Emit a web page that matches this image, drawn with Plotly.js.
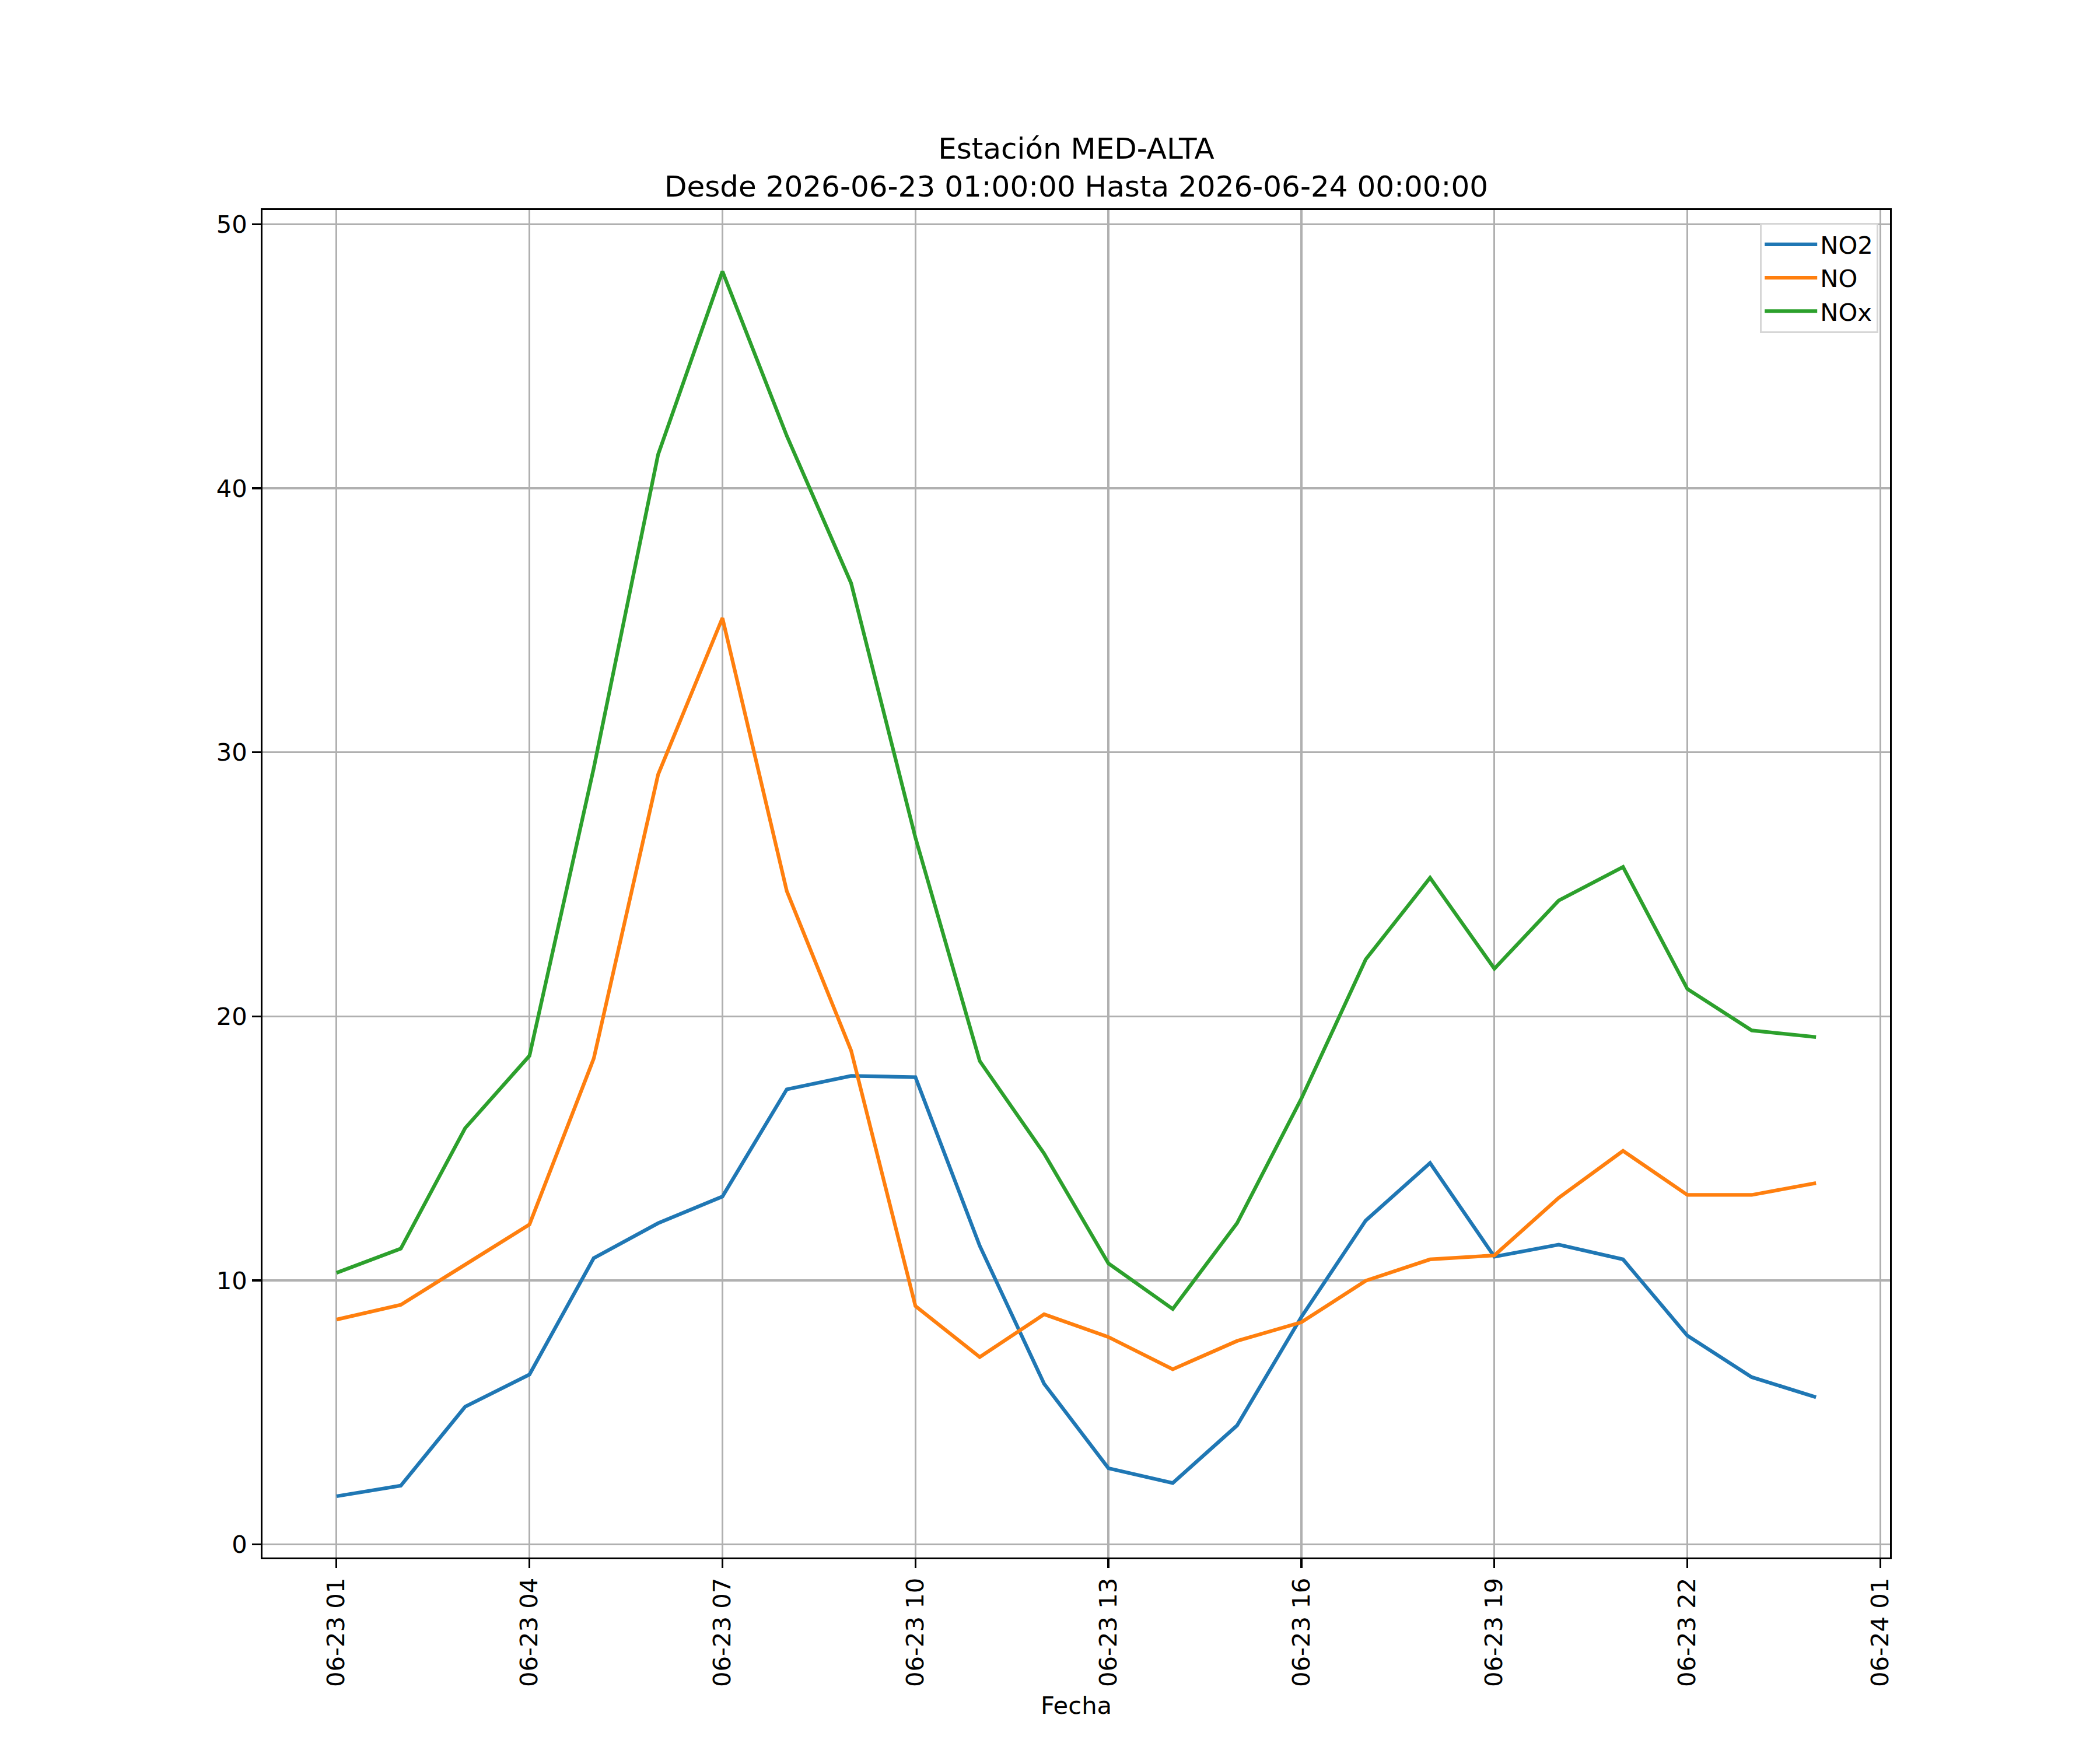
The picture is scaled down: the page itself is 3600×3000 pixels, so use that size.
<!DOCTYPE html>
<html>
<head>
<meta charset="utf-8">
<script src="https://cdn.plot.ly/plotly-3.0.1.min.js"></script>
<style>
html,body{margin:0;padding:0;background:#fff;}
#chart{width:3600px;height:3000px;}
</style>
</head>
<body>
<div id="chart"></div>
<script>
const fechas = [
  "2026-06-23 01:00","2026-06-23 02:00","2026-06-23 03:00","2026-06-23 04:00",
  "2026-06-23 05:00","2026-06-23 06:00","2026-06-23 07:00","2026-06-23 08:00",
  "2026-06-23 09:00","2026-06-23 10:00","2026-06-23 11:00","2026-06-23 12:00",
  "2026-06-23 13:00","2026-06-23 14:00","2026-06-23 15:00","2026-06-23 16:00",
  "2026-06-23 17:00","2026-06-23 18:00","2026-06-23 19:00","2026-06-23 20:00",
  "2026-06-23 21:00","2026-06-23 22:00","2026-06-23 23:00","2026-06-24 00:00"
];
const no2 = [1.83,2.23,5.22,6.44,10.85,12.17,13.18,17.24,17.75,17.70,11.31,6.09,
             2.89,2.33,4.51,8.62,12.27,14.45,10.90,11.36,10.80,7.91,6.34,5.58];
const no  = [8.52,9.08,10.60,12.12,18.41,29.16,35.09,24.75,18.71,9.03,7.10,8.72,
             7.86,6.64,7.71,8.42,9.99,10.80,10.95,13.13,14.91,13.24,13.24,13.69];
const nox = [10.29,11.21,15.77,18.51,29.41,41.28,48.22,41.99,36.41,26.77,18.31,14.81,
             10.65,8.92,12.17,16.89,22.16,25.25,21.81,24.39,25.66,21.04,19.47,19.22];
const seriesNames = ["NO2","NO","NOx"];
const seriesColors = ["#1f77b4","#ff7f0e","#2ca02c"];
const yTicks = [0,10,20,30,40,50];

const FONT = "DejaVu Sans";
const fs = 41.7;

const traces = [no2, no, nox].map((vals, i) => ({
  x: fechas, y: vals, type: "scatter", mode: "lines",
  name: seriesNames[i],
  line: {color: seriesColors[i], width: 6.25}
}));

const layout = {
  width: 3600, height: 3000,
  paper_bgcolor: "#ffffff", plot_bgcolor: "#ffffff",
  margin: {l: 450, r: 360, t: 360, b: 330, pad: 0},
  font: {family: FONT, size: fs, color: "#000000"},
  title: {
    text: "Estación MED-ALTA<br>Desde 2026-06-23 01:00:00 Hasta 2026-06-24 00:00:00",
    font: {family: FONT, size: 50, color: "#000"},
    x: 0.5, xref: "paper", xanchor: "center",
    y: 1, yref: "paper", yanchor: "bottom",
    pad: {b: 88}
  },
  showlegend: true,
  legend: {
    x: 0.9928, xanchor: "right", y: 0.9905, yanchor: "top",
    bgcolor: "rgba(255,255,255,0.8)", bordercolor: "#d6d6d6", borderwidth: 3.3,
    font: {family: FONT, size: fs, color: "#000"},
    itemwidth: 90, tracegroupgap: 0
  },
  xaxis: {
    type: "date",
    range: ["2026-06-22 23:51", "2026-06-24 01:09"],
    tick0: "2026-06-23 01:00", dtick: 3*3600000,
    tickformat: "%m-%d %H",
    tickangle: -90,
    ticks: "outside", ticklen: 14.6, tickwidth: 3.33, tickcolor: "#000",
    showgrid: true, gridcolor: "#b0b0b0", gridwidth: 3.33,
    showline: true, linecolor: "#000", linewidth: 3.33, mirror: true,
    zeroline: false,
    tickfont: {family: FONT, size: fs, color: "#000"},
    title: {text: "Fecha", font: {family: FONT, size: fs, color: "#000"}, standoff: 18},
    automargin: false
  },
  yaxis: {
    range: [-0.49, 50.54],
    tickvals: yTicks, ticktext: yTicks.map(String),
    ticks: "outside", ticklen: 14.6, tickwidth: 3.33, tickcolor: "#000",
    showgrid: true, gridcolor: "#b0b0b0", gridwidth: 3.33,
    showline: true, linecolor: "#000", linewidth: 3.33, mirror: true,
    zeroline: false,
    tickfont: {family: FONT, size: fs, color: "#000"},
    automargin: false
  }
};

Plotly.newPlot("chart", traces, layout, {staticPlot: true, displayModeBar: false});
</script>
</body>
</html>
